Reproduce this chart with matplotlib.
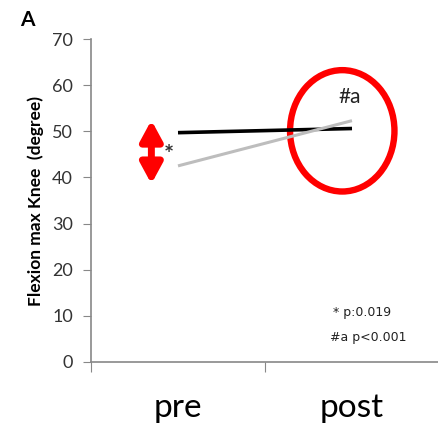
import matplotlib.pyplot as plt
from matplotlib.patches import Ellipse

plt.rcParams['font.family'] = ['Lato', 'DejaVu Sans']

# data
categories = ['pre', 'post']
group_black = [49.7, 50.6]
group_gray = [42.5, 52.3]
positions = [0.5, 1.5]

fig = plt.figure(figsize=(4.39, 4.25), dpi=100)
ax = fig.add_axes([91 / 439, 63 / 425, 348 / 439, 323 / 425])

ax.plot(positions, group_black, color='black', lw=2.6, solid_capstyle='butt')
ax.plot(positions, group_gray, color='#bdbdbd', lw=2.2, solid_capstyle='butt')

ax.set_xlim(0, 348 / 180)
ax.set_ylim(0, 70)
ax.set_yticks(range(0, 71, 10))
ax.set_xticks([0, 1, 2])
ax.set_xticklabels([])
ax.set_xticks(positions, minor=True)
ax.set_xticklabels(categories, minor=True, fontsize=24)
ax.tick_params(axis='x', which='minor', length=0, pad=22)
ax.tick_params(axis='x', which='major', length=7, color='#888888')
ax.tick_params(axis='y', length=6, color='#888888', labelsize=13, labelcolor='#333333', pad=7)

for s in ['top', 'right']:
    ax.spines[s].set_visible(False)
for s in ['left', 'bottom']:
    ax.spines[s].set_color('#888888')
    ax.spines[s].set_linewidth(1.2)

ax.set_ylabel('Flexion max Knee  (degree)', fontsize=12.5, fontweight='bold', labelpad=6)

# annotations
ax.annotate('', xy=(0.347, 38.6), xytext=(0.347, 52.4),
            arrowprops=dict(arrowstyle='<|-|>,head_length=1.2,head_width=0.65',
                            color='red', lw=5, shrinkA=0, shrinkB=0))
ax.text(0.45, 44.8, '*', fontsize=17, fontweight='bold', ha='center', va='center', color='#333333')
ax.add_patch(Ellipse((1.444, 50.1), 0.6, 26.3, fill=False, edgecolor='red', lw=4.6))
ax.text(1.485, 57.4, '#a', fontsize=15, ha='center', va='center', color='#222222')

ax.text(1.39, 10.8, '* p:0.019', fontsize=9, ha='left', va='center', color='#222222',
        family='DejaVu Sans')
ax.text(1.372, 5.4, '#a p<0.001', fontsize=9, ha='left', va='center', color='#222222',
        family='DejaVu Sans')

fig.text(20 / 439, 1 - 20 / 425, 'A', fontsize=15, fontweight='bold', ha='left', va='center')

fig.savefig('out.png', dpi=100)
